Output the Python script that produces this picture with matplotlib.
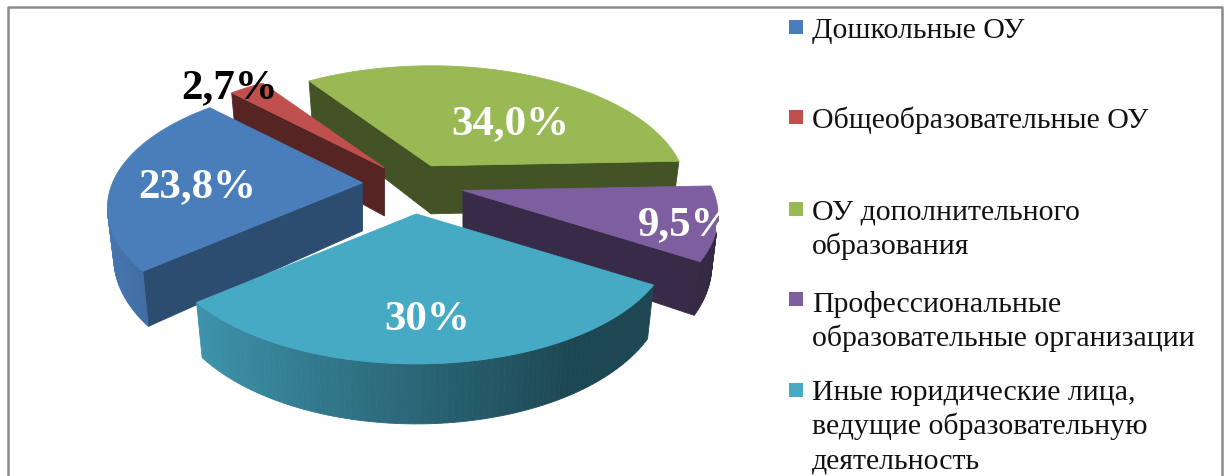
import numpy as np
import matplotlib
matplotlib.use("Agg")
import matplotlib.pyplot as plt

plt.rcParams['font.family'] = ['Liberation Serif', 'DejaVu Serif']

# Data
categories = [
    "Дошкольные ОУ",
    "Общеобразовательные ОУ",
    "ОУ дополнительного\nобразования",
    "Профессиональные\nобразовательные организации",
    "Иные юридические лица,\nведущие образовательную\nдеятельность",
]
values = [23.8, 2.7, 34.0, 9.5, 30.0]
value_labels = ["23,8%", "2,7%", "34,0%", "9,5%", "30%"]

# Styles
colors = ['#4a7ebb', '#c0504d', '#98b954', '#7d5fa0', '#46aac5']
flat_wall_shade = [0.60, 0.45, 0.45, 0.45, 0.45]
label_colors = ['white', 'black', 'white', 'white', 'white']
label_xy = [(197, 197), (230, 98), (510, 134), (686, 235), (427, 330)]
legend_y = [38, 128, 220, 312, 400]    # baseline of the first text line
legend_marker_y = [27.5, 118, 210, 300, 391]
legend_step = 34.5

# Projection of the pie (pixels)
cx, cy = 412, 185
rx, ry = 250, 120
persp = 0.2
depth = 48
explode = 0.2
first_angle = 140      # degrees clockwise from east


def project(t):
    s = 1 / (1 - persp*np.sin(t))
    return rx*np.cos(t)*s, ry*np.sin(t)*s, s


def shade(color, k):
    return tuple(k*c for c in matplotlib.colors.to_rgb(color))


def wall(ax, p, q, color, z):
    # p and q are (x, y, s, apex x) points of the top face
    low = 0.975
    ax.fill(
        [p[0], q[0], p[3] + low*(q[0]-p[3]), p[3] + low*(p[0]-p[3])],
        [p[1], q[1], q[1] + depth*q[2], p[1] + depth*p[2]],
        color=color, lw=0.6, zorder=z
    )


fig = plt.figure(figsize=(12.24, 4.77), dpi=100)
ax = fig.add_axes([0, 0, 1, 1])
ax.set_xlim(0, 1224)
ax.set_ylim(477, 0)
ax.axis('off')

# Frame
ax.plot([8, 8, 1222, 1222], [477, 7.5, 7.5, 477], color='#8c8c8c', lw=1.8)

# Slices
edges = first_angle + np.cumsum([0] + values) * 3.6
draw_order = [2, 1, 0, 3, 4]

for n, i in enumerate(draw_order):
    z = 2 + n
    t0, t1 = np.radians(edges[i]), np.radians(edges[i+1])
    mid = (t0 + t1) / 2
    mx, my, _ = project(mid)
    ax0, ay0 = cx + explode*mx, cy + explode*my

    ts = np.linspace(t0, t1, max(int(values[i]*3), 8))
    px, py, ps = project(ts)
    px, py = ax0 + px, ay0 + py

    apex = (ax0, ay0, 1.0, ax0)
    pts = [(x, y, s, ax0) for x, y, s in zip(px, py, ps)]

    # radial walls, only the ones that face the viewer
    dark = shade(colors[i], flat_wall_shade[i])
    if pts[0][0] < ax0:
        wall(ax, apex, pts[0], dark, z)
    if ax0 < pts[-1][0]:
        wall(ax, pts[-1], apex, dark, z)

    # outer wall, lighter towards the left
    for j in range(len(pts) - 1):
        if pts[j+1][0] < pts[j][0]:
            tm = (ts[j] + ts[j+1]) / 2
            k = np.clip(0.6 - 0.35*np.cos(tm), 0.42, 1.0)
            wall(ax, pts[j], pts[j+1], shade(colors[i], k), z)

    # top face
    ax.fill(np.r_[ax0, px], np.r_[ay0, py], color=colors[i], lw=0.6,
            zorder=z + 0.5)

# Value labels
for (x, y), text, col in zip(label_xy, value_labels, label_colors):
    ax.text(x, y, text, color=col, fontsize=31, fontweight='bold',
            ha='center', va='baseline', zorder=20)

# Legend
for name, col, ty, my in zip(categories, colors, legend_y, legend_marker_y):
    ax.fill([789, 803, 803, 789], [my-7, my-7, my+7, my+7], color=col, lw=0)
    for k, line in enumerate(name.split('\n')):
        ax.text(812, ty + k*legend_step, line, fontsize=21.5, color='#111111',
                ha='left', va='baseline')

fig.savefig('out.png', dpi=100)
